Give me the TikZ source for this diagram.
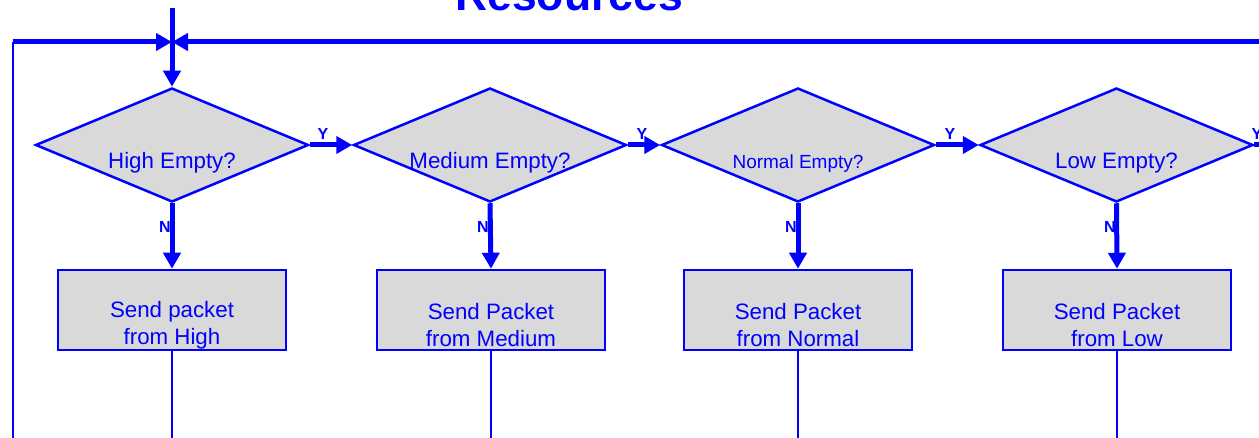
\documentclass[tikz,border=0pt]{standalone}
\usepackage{fontspec}
\setmainfont{Liberation Sans}
\usetikzlibrary{shapes.geometric,arrows.meta}
\definecolor{fb}{RGB}{0,0,255}
\definecolor{fg}{RGB}{217,217,217}
\begin{document}
\begin{tikzpicture}[x=1pt,y=-1pt,
 dec/.style={diamond,draw=fb,fill=fg,line width=2.5pt,minimum width=273pt,minimum height=114pt,inner sep=0pt},
 box/.style={rectangle,draw=fb,fill=fg,line width=2.5pt,minimum width=228pt,minimum height=80pt,inner sep=0pt},
 txt/.style={text=fb,font=\fontsize{22.3}{27}\selectfont,align=center},
 yn/.style={text=fb,font=\fontsize{16}{16}\selectfont\bfseries,inner sep=0pt},
 flow/.style={draw=fb,line width=5pt,-{Triangle[length=16pt,width=17pt]}},
 thinline/.style={draw=fb,line width=2.5pt}]
\useasboundingbox (0,0) rectangle (1259,438);
% title
\node[text=fb,font=\fontsize{44.5}{44.5}\selectfont\bfseries,anchor=base,inner sep=0pt] (title) at (569,11) {Resources};
% coordinates
\coordinate (join) at (172,42);
\coordinate (topin) at (172,8);
\coordinate (lc) at (13,42);
\coordinate (lb) at (13,445);
\coordinate (re) at (1265,42);
\coordinate (bot) at (0,445);
\coordinate (yend) at (1275,145);
% diamonds
\node[dec,label={[txt,yshift=-18pt]center:High Empty?}] (d1) at (172,145) {};
\node[dec,label={[txt,yshift=-18pt]center:Medium Empty?}] (d2) at (490,145) {};
\node[dec,label={[txt,font=\fontsize{19}{19}\selectfont,yshift=-19pt]center:Normal Empty?}] (d3) at (798,145) {};
\node[dec,label={[txt,yshift=-18pt]center:Low Empty?}] (d4) at (1116.5,145) {};
% boxes
\node[box,label={[txt,yshift=-15pt]center:Send packet\\from High}] (b1) at (172,310) {};
\node[box,label={[txt,yshift=-15pt]center:Send Packet\\from Medium}] (b2) at (491,310) {};
\node[box,label={[txt,yshift=-15pt]center:Send Packet\\from Normal}] (b3) at (798,310) {};
\node[box,label={[txt,yshift=-15pt]center:Send Packet\\from Low}] (b4) at (1117,310) {};
% loop lines
\draw[thinline] (lb) -- (lc);
\draw[flow] (lc) -- (join);
\draw[flow] (re) -- (join);
\draw[flow] (topin) -- (d1.north);
% Y arrows
\draw[flow] (d1.east) -- (d2.west);
\draw[flow] (d2.east) -- (d3.west);
\draw[flow] (d3.east) -- (d4.west);
\draw[flow] (d4.east) -- (yend);
\node[yn] (y1) at (323,134) {Y};
\node[yn] (y2) at (642,134) {Y};
\node[yn] (y3) at (950,134) {Y};
\node[yn] (y4) at (1257,134) {Y};
% N arrows
\draw[flow] (d1.south) -- (b1.north);
\draw[flow] (d2.south) -- (b2.north);
\draw[flow] (d3.south) -- (b3.north);
\draw[flow] (d4.south) -- (b4.north);
\node[yn] (n1) at (165,227) {N};
\node[yn] (n2) at (483,227) {N};
\node[yn] (n3) at (791,227) {N};
\node[yn] (n4) at (1110,227) {N};
% lines below boxes
\draw[thinline] (b1.south) -- (b1.south |- bot);
\draw[thinline] (b2.south) -- (b2.south |- bot);
\draw[thinline] (b3.south) -- (b3.south |- bot);
\draw[thinline] (b4.south) -- (b4.south |- bot);
\end{tikzpicture}
\end{document}
